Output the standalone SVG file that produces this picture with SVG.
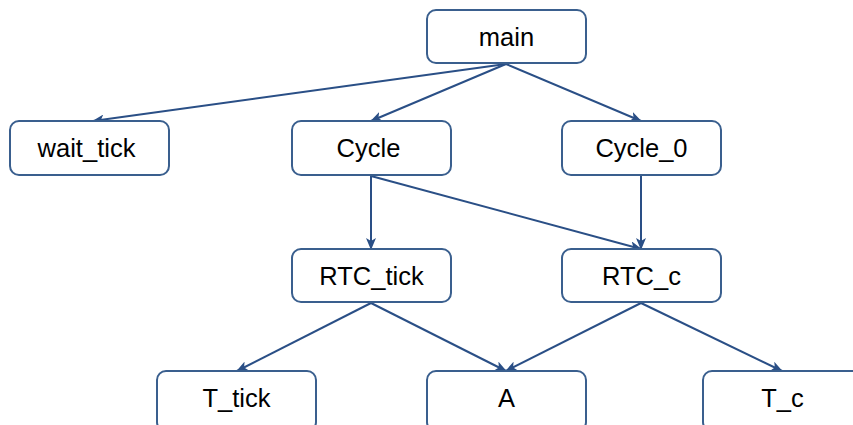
<svg xmlns="http://www.w3.org/2000/svg" width="853" height="425" viewBox="0 0 853 425">
<style>
.n rect{fill:#fff;stroke:#3a5f8e;stroke-width:2}
.n text{font-family:"Liberation Sans",Arial,sans-serif;font-size:25.5px;fill:#000;text-anchor:middle}
.e line{stroke:#2a4f86;stroke-width:2;marker-end:url(#ah)}
</style>
<defs>
<marker id="ah" viewBox="0 0 12 10" refX="11" refY="5" markerWidth="12" markerHeight="10" markerUnits="userSpaceOnUse" orient="auto">
<path d="M0,0 L12,5 L0,10 L3,5 Z" fill="#2a4f86"/>
</marker>
</defs>
<rect width="853" height="425" fill="#fff"/>
<g id="connectors" class="e">
<line x1="506" y1="64" x2="93" y2="121"/>
<line x1="506" y1="64" x2="371" y2="121"/>
<line x1="506" y1="64" x2="641" y2="121"/>
<line x1="371" y1="176" x2="371" y2="249"/>
<line x1="371" y1="176" x2="641" y2="249"/>
<line x1="641" y1="176" x2="641" y2="249"/>
<line x1="371" y1="303" x2="237" y2="371"/>
<line x1="371" y1="303" x2="506" y2="371"/>
<line x1="641" y1="303" x2="506" y2="371"/>
<line x1="641" y1="303" x2="782" y2="371"/>
</g>
<g id="main" class="n"><rect x="427" y="10" width="159" height="53" rx="9"/><text x="506.5" y="45.5">main</text></g>
<g id="wait_tick" class="n"><rect x="10" y="121" width="159" height="54" rx="9"/><text x="86.5" y="156.5">wait_tick</text></g>
<g id="Cycle" class="n"><rect x="292" y="121" width="159" height="54" rx="9"/><text x="368.5" y="156.5">Cycle</text></g>
<g id="Cycle_0" class="n"><rect x="562" y="121" width="159" height="54" rx="9"/><text x="641.5" y="156.5">Cycle_0</text></g>
<g id="RTC_tick" class="n"><rect x="292" y="249" width="159" height="53" rx="9"/><text x="371.5" y="284.5">RTC_tick</text></g>
<g id="RTC_c" class="n"><rect x="562" y="249" width="159" height="53" rx="9"/><text x="641.5" y="284.5">RTC_c</text></g>
<g id="T_tick" class="n"><rect x="157" y="371" width="159" height="60" rx="9"/><text x="236.5" y="406.5">T_tick</text></g>
<g id="A" class="n"><rect x="427" y="371" width="159" height="60" rx="9"/><text x="506.5" y="406.5">A</text></g>
<g id="T_c" class="n"><rect x="703" y="371" width="159" height="60" rx="9"/><text x="782.5" y="406.5">T_c</text></g>
</svg>
